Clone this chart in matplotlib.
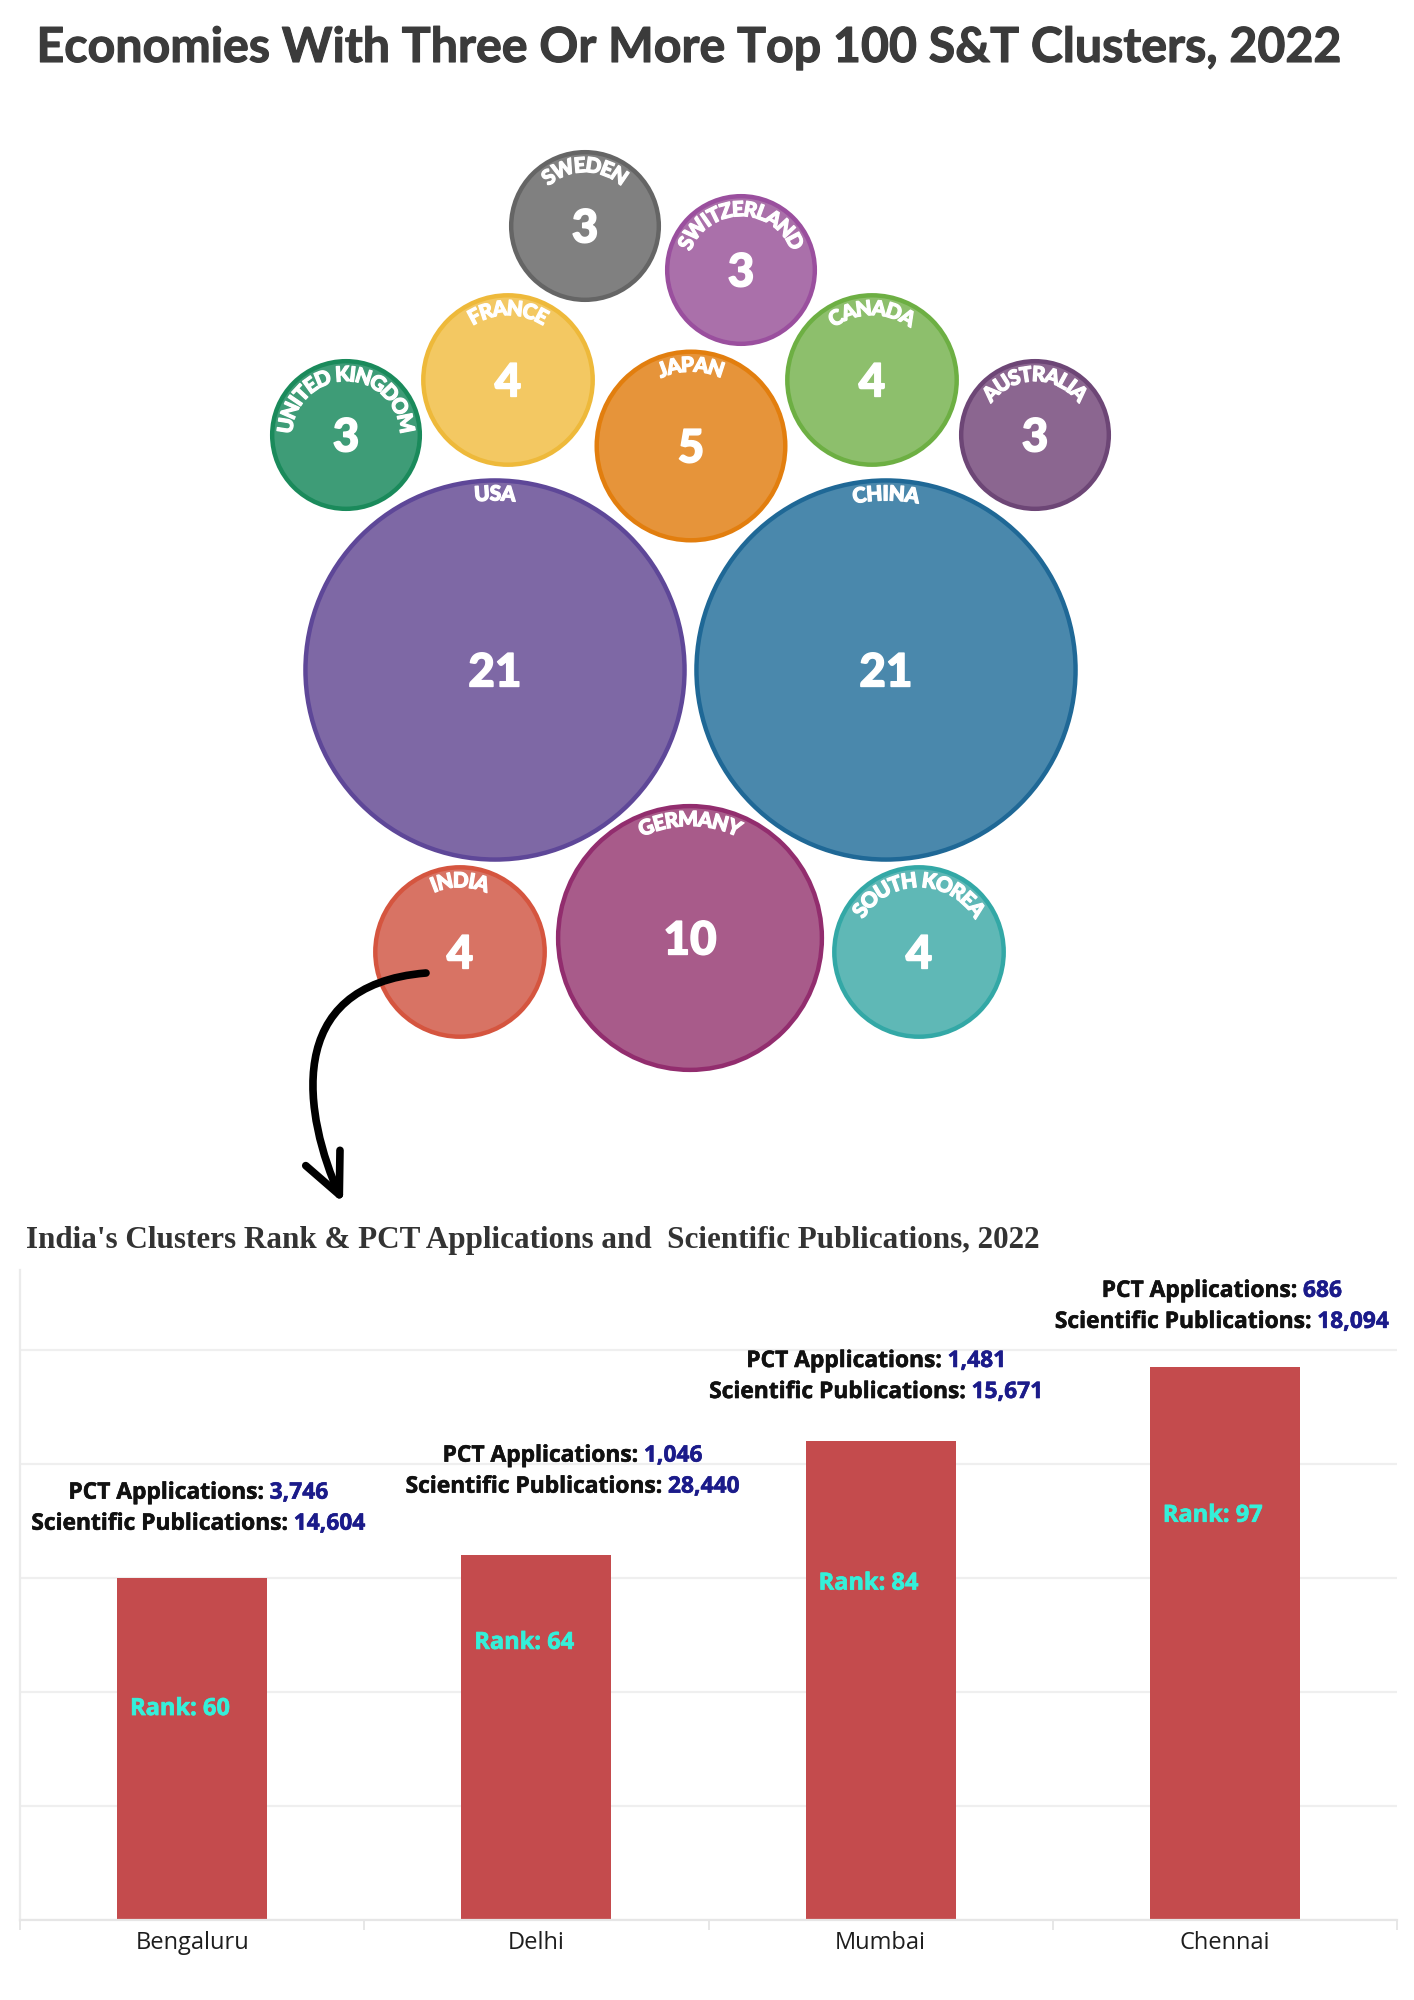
import numpy as np
import matplotlib
matplotlib.use("Agg")
import matplotlib.pyplot as plt
import matplotlib.patheffects as pe
from matplotlib.patches import Circle, FancyArrowPatch
from matplotlib.path import Path
from matplotlib.font_manager import FontProperties, findfont
from matplotlib.transforms import offset_copy

# ---------------- data ----------------
countries = ["SWEDEN", "SWITZERLAND", "FRANCE", "CANADA", "UNITED KINGDOM", "JAPAN",
             "AUSTRALIA", "USA", "CHINA", "INDIA", "GERMANY", "SOUTH KOREA"]
cluster_counts = [3, 3, 4, 4, 3, 5, 3, 21, 21, 4, 10, 4]
fill_colors = ["#808080", "#AA70AA", "#F3C862", "#8DBF6C", "#3E9C77", "#E6943A",
               "#8B6690", "#7E68A5", "#4A88AC", "#D87364", "#A85B8A", "#5FB8B6"]
edge_colors = ["#656565", "#9A4F9E", "#EEB93A", "#6DAF43", "#1A8A5B", "#E27E0E",
               "#6D4676", "#5E4798", "#1F6896", "#D5553F", "#922D6E", "#33A8A6"]

cities = ["Bengaluru", "Delhi", "Mumbai", "Chennai"]
ranks = [60, 64, 84, 97]
pct_applications = [3746, 1046, 1481, 686]
scientific_publications = [14604, 28440, 15671, 18094]

title = "Economies With Three Or More Top 100 S&T Clusters, 2022"
subtitle = "India's Clusters Rank & PCT Applications and  Scientific Publications, 2022"

# ---------------- layout (pixel positions of the packed bubbles) ----------------
bubble_centers = [(585, 226), (741, 270), (508, 380), (872, 380), (346, 435), (691, 446),
                  (1035, 435), (495, 670), (886, 670), (460, 952), (690, 938), (919, 952)]
rank_label_y = [37, 48.6, 59, 70.9]
annot_y = [69.5, 76, 92.6, 104.9]
annot_dx = [0.018, 0.105, -0.013, -0.009]

W, H = 1414, 2000


def pick(names):
    for n in names:
        try:
            findfont(FontProperties(family=n), fallback_to_default=False)
            return n
        except Exception:
            continue
    return "DejaVu Sans"


F_BUB = pick(["Lato", "Open Sans", "DejaVu Sans"])
F_BAR = pick(["Open Sans", "Noto Sans", "DejaVu Sans"])
F_SER = pick(["Liberation Serif", "DejaVu Serif"])

fig = plt.figure(figsize=(W / 100, H / 100), dpi=100)
fig.patch.set_facecolor("white")
renderer = fig.canvas.get_renderer()


def tw(s, fp):
    return renderer.get_text_width_height_descent(s, fp, ismath=False)[0]


def fit_text(x, y, s, family, weight, target_w, color, stroke=0.0):
    fp = FontProperties(family=family, weight=weight, size=20)
    w = tw(s, fp)
    fp.set_size(20 * target_w / w)
    t = fig.text(x / W, 1 - y / H, s, fontproperties=fp, color=color, ha="left", va="baseline")
    if stroke:
        t.set_path_effects([pe.withStroke(linewidth=stroke, foreground=color)])


# ---------------- overlay axes in pixel units ----------------
ov = fig.add_axes([0, 0, 1, 1])
ov.set_xlim(0, W)
ov.set_ylim(H, 0)
ov.axis("off")

fit_text(36.5, 62, title, F_BUB, "bold", 1305, "#3B3B3B", stroke=0.8)
fit_text(25.5, 1248, subtitle, F_SER, "bold", 1015, "#333333")


def radius(v):
    return 3.5 + 40.6 * np.sqrt(v)


lab_fp = FontProperties(family=F_BUB, weight=900, size=15)
num_fp = FontProperties(family=F_BUB, weight=900, size=33)
white_thick = [pe.withStroke(linewidth=1.1, foreground="white")]
white_thin = [pe.withStroke(linewidth=0.9, foreground="white")]


def curved_label(cx, cy, r_base, text, fp, color="white"):
    base = tw("XX", fp)
    adv = [tw("X" + c + "X", fp) - base for c in text]
    total = sum(adv)
    cap = 0.72 * fp.get_size_in_points() * 100 / 72
    r_mid = r_base + cap / 2
    pos = -total / 2
    for c, a in zip(text, adv):
        center = pos + a / 2
        phi = np.pi / 2 - center / r_mid
        x = cx + r_base * np.cos(phi)
        y = cy - r_base * np.sin(phi)
        ov.text(x, y, c, rotation=np.degrees(phi) - 90, rotation_mode="anchor",
                ha="center", va="baseline", fontproperties=fp, color=color, zorder=5,
                path_effects=white_thin)
        pos += a


for name, v, (cx, cy), fc, ec in zip(countries, cluster_counts, bubble_centers,
                                     fill_colors, edge_colors):
    r = radius(v)
    ov.add_patch(Circle((cx, cy), r, facecolor=fc, edgecolor=ec, lw=3.2, zorder=3))
    digit_h = 0.716 * num_fp.get_size_in_points() * 100 / 72
    ov.text(cx, cy + digit_h / 2, str(v), ha="center", va="baseline",
            fontproperties=num_fp, color="white", zorder=5, path_effects=white_thick)
    curved_label(cx, cy, r - 20, name, lab_fp)

# arrow from India bubble to the bar chart
verts = [(426, 973), (280, 985), (305, 1118), (343, 1203)]
arrow = FancyArrowPatch(path=Path(verts, [Path.MOVETO, Path.CURVE4, Path.CURVE4, Path.CURVE4]),
                        arrowstyle="->,head_length=2.9,head_width=1.35", mutation_scale=10,
                        lw=5.5, color="black", capstyle="round", joinstyle="round",
                        shrinkA=0, shrinkB=0, zorder=6)
ov.add_patch(arrow)

# ---------------- bar chart ----------------
ax = fig.add_axes([20 / W, 80 / H, 1377 / W, 650 / H])
ax.set_facecolor("none")
x = np.arange(len(cities))
ax.bar(x, ranks, width=0.436, color="#C44B4D", zorder=2)
ax.set_xlim(-0.5, 3.5)
ax.set_ylim(0, 114)
ax.set_yticks([0, 20, 40, 60, 80, 100])
ax.set_yticklabels([])
ax.yaxis.grid(True, color="#EFEFEF", lw=1.6, zorder=0)
ax.tick_params(axis="y", length=0)
for s in ["top", "right"]:
    ax.spines[s].set_visible(False)
ax.spines["bottom"].set_color("#E6E6E6")
ax.spines["bottom"].set_linewidth(1.6)
ax.spines["left"].set_color("#EBEBEB")
ax.spines["left"].set_linewidth(1.6)
ax.set_xticks(x)
ax.set_xticklabels(cities, fontproperties=FontProperties(family=F_BAR, size=17), color="#1E1E1E")
ax.tick_params(axis="x", which="major", length=0, pad=8)
ax.set_xticks(np.arange(-0.5, len(cities), 1), minor=True)
ax.tick_params(axis="x", which="minor", length=7, color="#E3E3E3", width=1.2)

rank_fp = FontProperties(family=F_BAR, weight="bold", size=17)
for i, rk in enumerate(ranks):
    ax.text(i - 0.035, rank_label_y[i], f"Rank: {rk}", ha="center", va="center",
            fontproperties=rank_fp, color="#35EFD9", zorder=4,
            path_effects=[pe.withStroke(linewidth=0.5, foreground="#35EFD9")])

ann_fp = FontProperties(family=F_BAR, weight="bold", size=16.4)
space_w = tw("X X", ann_fp) - tw("XX", ann_fp)


def two_tone(xc, y, label, value):
    wl = tw(label, ann_fp)
    wv = tw(value, ann_fp)
    total = wl + space_w + wv
    t1 = offset_copy(ax.transData, fig=fig, x=-total / 2, y=0, units="dots")
    t2 = offset_copy(ax.transData, fig=fig, x=-total / 2 + wl + space_w, y=0, units="dots")
    ax.text(xc, y, label, transform=t1, ha="left", va="center", fontproperties=ann_fp,
            color="#111111", clip_on=False,
            path_effects=[pe.withStroke(linewidth=0.4, foreground="#111111")])
    ax.text(xc, y, value, transform=t2, ha="left", va="center", fontproperties=ann_fp,
            color="#1B1B8A", clip_on=False,
            path_effects=[pe.withStroke(linewidth=0.4, foreground="#1B1B8A")])


for i in range(len(cities)):
    xc = i + annot_dx[i]
    two_tone(xc, annot_y[i] + 5.44, "PCT Applications:", f"{pct_applications[i]:,}")
    two_tone(xc, annot_y[i], "Scientific Publications:", f"{scientific_publications[i]:,}")

fig.savefig("out.png", dpi=100, facecolor="white")
